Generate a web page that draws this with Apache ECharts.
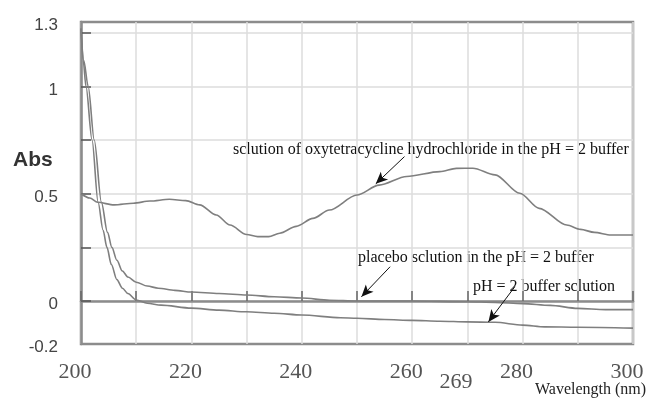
<!DOCTYPE html>
<html>
<head>
<meta charset="utf-8">
<title>Abs spectra</title>
<script src="https://cdn.jsdelivr.net/npm/echarts@6.0.0/dist/echarts.min.js"></script>
<style>
  html, body { margin: 0; padding: 0; background: #fff; }
  #main { width: 649px; height: 398px; }
</style>
</head>
<body>
<div id="main"></div>
<script>
// values
const oxyWl = [200, 201.6, 203, 206, 209.5, 212.5, 216, 219, 221.5, 224.5, 227, 230, 232, 234, 236, 239, 242, 245, 250, 254, 259, 265, 268, 271, 275, 279.5, 283, 288, 290.5, 293, 296, 300]
const oxyAbs = [0.5, 0.48, 0.46, 0.448, 0.456, 0.466, 0.474, 0.468, 0.448, 0.401, 0.354, 0.31, 0.3, 0.3, 0.316, 0.348, 0.385, 0.424, 0.494, 0.54, 0.58, 0.603, 0.618, 0.619, 0.588, 0.502, 0.432, 0.354, 0.334, 0.32, 0.308, 0.308]

const placeboWl = [200, 200.5, 201.3, 202.4, 203.7, 204.8, 205.6, 206.5, 207.5, 208.5, 210, 212, 214, 217, 220, 225, 230, 235, 240, 245, 250, 260, 270, 275, 280, 285, 290, 295, 300]
const placeboAbs = [1.27, 1.12, 1.0, 0.75, 0.46, 0.32, 0.25, 0.19, 0.14, 0.112, 0.088, 0.07, 0.06, 0.05, 0.042, 0.035, 0.028, 0.02, 0.014, 0.004, 0.0, 0.0, -0.003, -0.006, -0.012, -0.02, -0.034, -0.04, -0.04]

const bufferWl = [200, 200.4, 200.9, 202, 203.1, 204, 204.7, 205.5, 206.5, 207.5, 208.5, 210, 212, 214.5, 220, 225, 230, 235, 240, 247, 250, 255, 260, 265, 270, 275, 280, 284, 290, 300]
const bufferAbs = [1.27, 1.12, 1.0, 0.75, 0.46, 0.33, 0.25, 0.17, 0.1, 0.06, 0.035, 0.005, -0.01, -0.019, -0.033, -0.042, -0.05, -0.057, -0.065, -0.078, -0.08, -0.086, -0.09, -0.094, -0.097, -0.099, -0.112, -0.12, -0.122, -0.126]

const xTickLabels = [200, 220, 240, 260, 269, 280, 300]
const yTickLabels = [-0.2, 0, 0.5, 1, 1.3]
const yGrid = [0, 0.25, 0.5, 0.75, 1, 1.25]

const seriesNames = [
  'sclution of oxytetracycline hydrochloride in the pH = 2 buffer',
  'placebo sclution in the pH = 2 buffer',
  'pH = 2 buffer sclution'
]
// arrows: tail (near the text) -> head (on the curve), in wavelength / Abs
const arrowFrom = [[258.6, 0.673], [256.0, 0.16], [278.6, 0.067]]
const arrowTo = [[253.4, 0.546], [250.8, 0.02], [273.8, -0.097]]

const pairs = (xs, ys) => xs.map((x, i) => [x, ys[i]])

const lineColor = '#7f7f7f'
const frameColor = '#8c8c8c'
const serif = '"Liberation Serif", "Times New Roman", serif'
const sans = '"Liberation Sans", Arial, sans-serif'

const curves = [
  pairs(oxyWl, oxyAbs),
  pairs(placeboWl, placeboAbs),
  pairs(bufferWl, bufferAbs)
]

const myChart = echarts.init(document.getElementById('main'))

const option = {
  animation: false,
  backgroundColor: '#fff',
  grid: {
    left: 81, right: 16, top: 22, bottom: 54,
    outerBoundsMode: 'none',
    show: true, borderColor: frameColor, borderWidth: 2.5
  },
  xAxis: {
    type: 'value',
    min: 200, max: 300, interval: 10,
    axisLine: { show: true, lineStyle: { color: frameColor, width: 2.5 } },
    axisTick: { show: true, inside: true, length: 10, lineStyle: { color: '#666', width: 1.5 } },
    splitLine: { show: true, lineStyle: { color: '#dcdcdc', width: 1.5 } },
    axisLabel: {
      customValues: xTickLabels,
      margin: 17,
      color: '#555',
      fontFamily: serif,
      fontSize: 22,
      padding: [0, 12, 0, 0],
      formatter: v => v === 269 ? '{low|269}' : String(v),
      rich: {
        low: { fontFamily: serif, fontSize: 22, color: '#555', padding: [10, 0, 0, 0] }
      }
    }
  },
  yAxis: {
    type: 'value',
    min: -0.2, max: 1.3,
    axisLine: { show: true, lineStyle: { color: frameColor, width: 2.5 } },
    axisTick: { show: true, inside: true, length: 10, customValues: yGrid, lineStyle: { color: '#555', width: 1.5 } },
    splitLine: { show: true, lineStyle: { color: '#dcdcdc', width: 1.5 } },
    axisLabel: {
      customValues: yTickLabels,
      margin: 23,
      color: '#444',
      fontFamily: sans,
      fontSize: 17,
      verticalAlign: 'middle',
      verticalAlignMinLabel: 'middle',
      verticalAlignMaxLabel: 'middle',
      // labels sit a little below their tick in the picture
      formatter: v => '{v|' + v + '}',
      rich: {
        v: { fontFamily: sans, fontSize: 17, color: '#444', padding: [7, 0, 0, 0] }
      }
    }
  },
  series: curves.map((data, i) => ({
    name: seriesNames[i],
    type: 'line',
    data: data,
    showSymbol: false,
    smooth: 0.3,
    smoothMonotone: 'x',
    lineStyle: { color: lineColor, width: 1.6 },
    z: 3,
    markLine: {
      silent: true,
      symbol: ['none', 'arrow'],
      symbolSize: [8, 12],
      label: { show: false },
      lineStyle: { color: '#111', width: 1, type: 'solid' },
      data: [[{ coord: arrowFrom[i] }, { coord: arrowTo[i] }]]
    }
  })),
  graphic: [
    { type: 'text', x: 13, y: 160, style: { text: 'Abs', font: 'bold 21px ' + sans, fill: '#333', verticalAlign: 'middle' } },
    { type: 'text', x: 535, y: 390, style: { text: 'Wavelength (nm)', font: '16px ' + serif, fill: '#222', verticalAlign: 'middle' } },
    { type: 'text', x: 233, y: 150, style: { text: seriesNames[0], font: '16px ' + serif, fill: '#111', verticalAlign: 'middle' } },
    { type: 'text', x: 358, y: 258, style: { text: seriesNames[1], font: '16px ' + serif, fill: '#111', verticalAlign: 'middle' } },
    { type: 'text', x: 473, y: 287, style: { text: seriesNames[2], font: '16px ' + serif, fill: '#111', verticalAlign: 'middle' } }
  ]
}
myChart.setOption(option)
</script>
</body>
</html>
